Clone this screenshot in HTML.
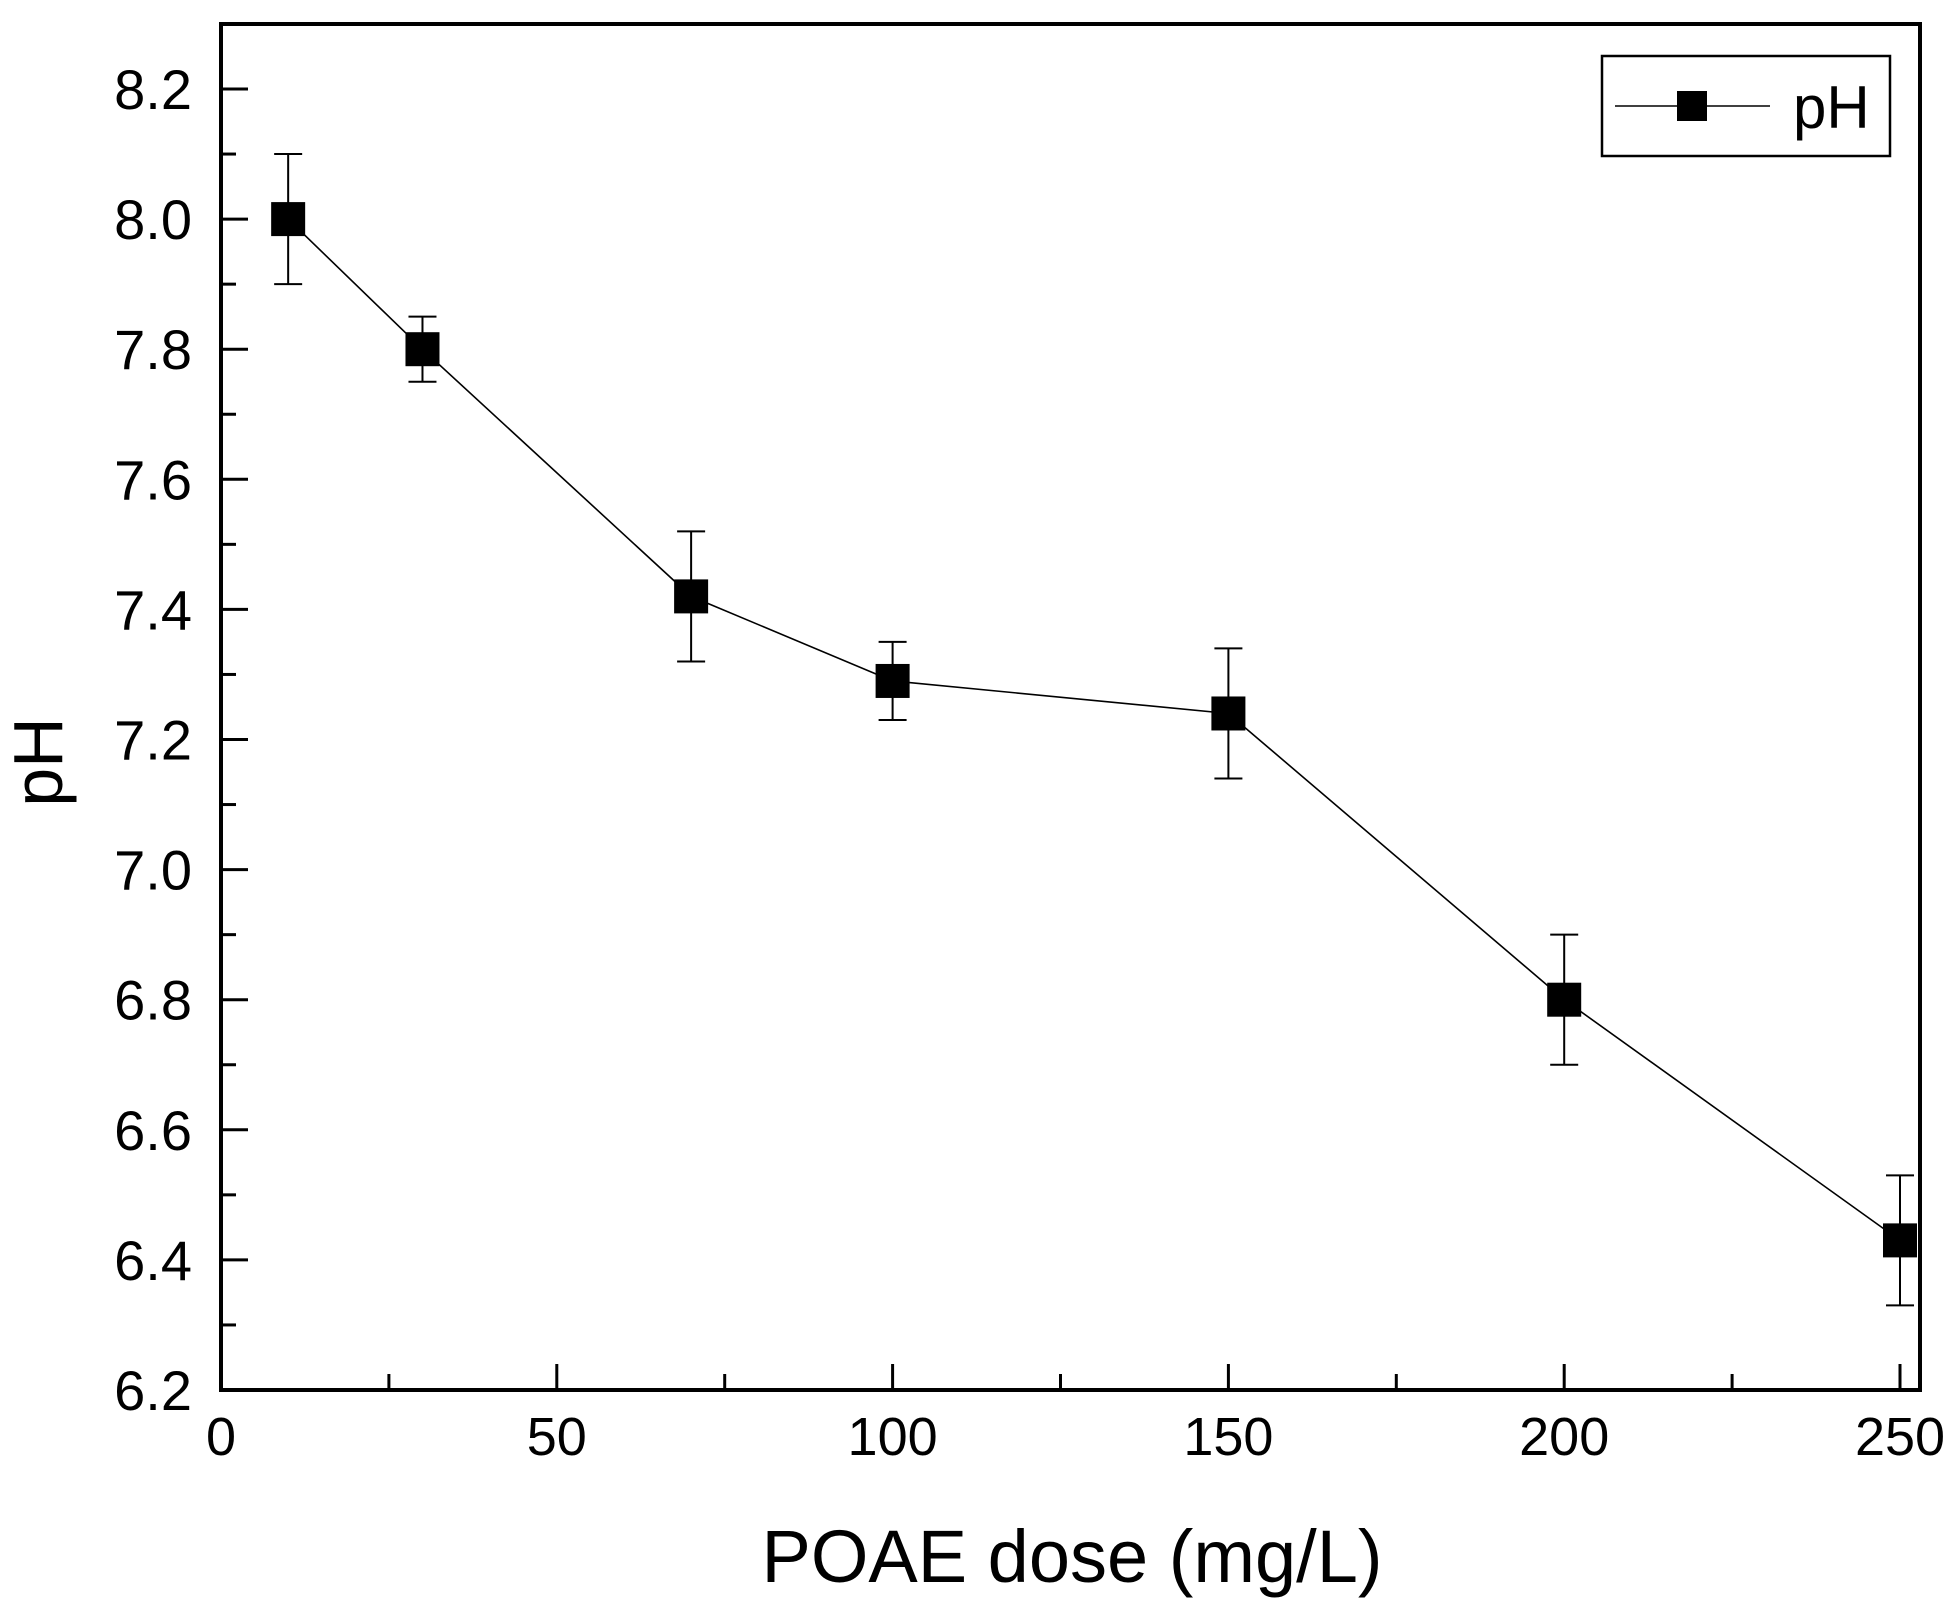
<!DOCTYPE html>
<html><head><meta charset="utf-8"><style>body{margin:0;background:#fff}svg{display:block}text{font-family:"Liberation Sans",Arial,sans-serif;fill:#000}</style></head>
<body>
<svg id="chart" width="1953" height="1600"></svg>
<script>
const doses=[10,30,70,100,150,200,250];
const phValues=[8.0,7.8,7.42,7.29,7.24,6.8,6.43];
const phErrors=[0.1,0.05,0.1,0.06,0.1,0.1,0.1];
const xTicks=[0,50,100,150,200,250];
const yTicks=[6.2,6.4,6.6,6.8,7.0,7.2,7.4,7.6,7.8,8.0,8.2];
const L=221,R=1920,T=24,B=1390;
const X0=221,X1=1900;
function sx(v){return X0+(v-0)/(250-0)*(X1-X0);}
function sy(v){return 1390-(v-6.2)/(2.0)*(1390-89);}
const svg=document.getElementById('chart');const NS='http://www.w3.org/2000/svg';
function el(t,a,p){const e=document.createElementNS(NS,t);for(const k in a)e.setAttribute(k,a[k]);(p||svg).appendChild(e);return e;}
let g=el('g',{});


el('rect',{x:L,y:T,width:R-L,height:B-T,fill:'none',stroke:'#000','stroke-width':4},g);
const xa=el('g',{});


xTicks.forEach((v,i)=>{const x=sx(v);el('line',{x1:x,x2:x,y1:B,y2:B-26,stroke:'#000','stroke-width':3},xa);
 if(i<xTicks.length-1){const xm=sx(v+25);el('line',{x1:xm,x2:xm,y1:B,y2:B-16,stroke:'#000','stroke-width':3},xa);}
 const t=el('text',{x:x,y:1455,'font-size':54,'text-anchor':'middle'},xa);t.textContent=v;
 
 });
const ya=el('g',{});


yTicks.forEach((v,i)=>{const y=sy(v);el('line',{x1:L,x2:L+27,y1:y,y2:y,stroke:'#000','stroke-width':3},ya);
 if(i<yTicks.length-1){const ym=sy(v+0.1);el('line',{x1:L,x2:L+15,y1:ym,y2:ym,stroke:'#000','stroke-width':3},ya);}
 const t=el('text',{x:192,y:y+20,'font-size':56,'text-anchor':'end'},ya);t.textContent=v.toFixed(1);
 
 });
const xt=el('text',{x:1072,y:1582,'font-size':74,'text-anchor':'middle'});xt.textContent='POAE dose (mg/L)';


const yt=el('text',{x:62,y:762,'font-size':70,'text-anchor':'middle',transform:'rotate(-90 62 762)'});yt.textContent='pH';


const s=el('g',{});


el('polyline',{points:doses.map((d,i)=>sx(d)+','+sy(phValues[i])).join(' '),fill:'none',stroke:'#000','stroke-width':1.6},s);
doses.forEach((d,i)=>{const x=sx(d),y=sy(phValues[i]),y1=sy(phValues[i]+phErrors[i]),y2=sy(phValues[i]-phErrors[i]);
 const eb=el('path',{d:`M${x},${y1}V${y2}M${x-14},${y1}H${x+14}M${x-14},${y2}H${x+14}`,stroke:'#000','stroke-width':2,fill:'none'},s);
 
 
 const m=el('rect',{x:x-17,y:y-17,width:34,height:34,fill:'#000'},s);
 
 });
const lg=el('g',{});


el('rect',{x:1602,y:56,width:288,height:100,fill:'#fff',stroke:'#000','stroke-width':2.5},lg);
el('line',{x1:1615,x2:1770,y1:106,y2:106,stroke:'#000','stroke-width':1.6},lg);
el('rect',{x:1677,y:91,width:30,height:30,fill:'#000'},lg);
const lt=el('text',{x:1793,y:128,'font-size':60},lg);lt.textContent='pH';


</script>
</body></html>
